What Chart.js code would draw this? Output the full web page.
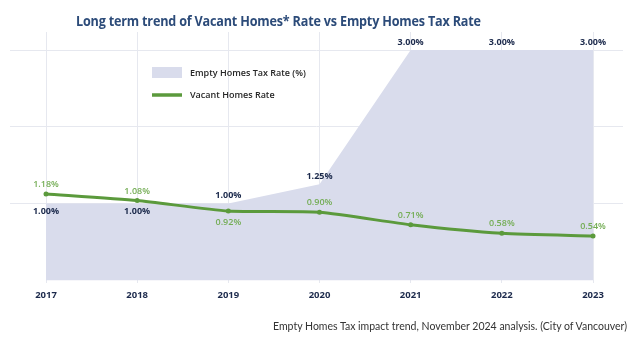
<!DOCTYPE html>
<html>
<head>
<meta charset="utf-8">
<script src="https://cdn.jsdelivr.net/npm/chart.js@4.4.1/dist/chart.umd.min.js"></script>
<style>
  html, body { margin: 0; padding: 0; background: #ffffff; }
  #wrap { position: relative; width: 633px; height: 338px; overflow: hidden; }
  #chart { position: absolute; left: 0; top: 0; }
  #title {
    position: absolute; left: 76px; top: 11px;
    font: 700 14px "Open Sans", sans-serif; color: #2c4b79;
    white-space: nowrap; letter-spacing: -0.2px;
    transform: scaleX(0.9); transform-origin: left center;
  }
  #caption {
    position: absolute; right: 6px; top: 320px;
    font: 400 10.5px Lato, sans-serif; color: #333333; white-space: nowrap;
  }
</style>
</head>
<body>
<div id="wrap">
  <canvas id="chart" width="633" height="338"></canvas>
  <div id="title">Long term trend of Vacant Homes* Rate vs Empty Homes Tax Rate</div>
  <div id="caption">Empty Homes Tax impact trend, November 2024 analysis. (City of Vancouver)</div>
</div>
<script>
// Years on the horizontal axis
const years = [2017, 2018, 2019, 2020, 2021, 2022, 2023];
// Empty Homes Tax rate (%) per year
const taxRate = [1.00, 1.00, 1.00, 1.25, 3.00, 3.00, 3.00];
// Vacant homes rate (%) per year
const vacantRate = [1.18, 1.08, 0.92, 0.90, 0.71, 0.58, 0.54];
// Series names
const taxName = 'Empty Homes Tax Rate (%)';
const vacantName = 'Vacant Homes Rate';
// Horizontal grid values on the tax-rate axis
const gridValues = [1, 2, 3];

const TAX_FILL = '#d9dcec';
const GREEN = '#5b9a3c';
const GREEN_TEXT = '#74ad55';
const NAVY = '#1c2a4c';
const GRID = '#e6e8ef';

const pct = v => v.toFixed(2) + '%';

// Value labels next to each point of both series
const valueLabels = {
  id: 'valueLabels',
  afterDraw(chart) {
    const ctx = chart.ctx;
    const taxMeta = chart.getDatasetMeta(0);
    const vacMeta = chart.getDatasetMeta(1);
    ctx.save();
    ctx.textAlign = 'center';
    ctx.textBaseline = 'middle';
    taxMeta.data.forEach((pt, i) => {
      const below = vacantRate[i] > taxRate[i];
      ctx.font = '700 9px "Open Sans"';
      ctx.fillStyle = NAVY;
      ctx.fillText(pct(taxRate[i]), pt.x, pt.y + (below ? 8 : -8));
    });
    vacMeta.data.forEach((pt, i) => {
      const taxPt = taxMeta.data[i];
      const below = vacantRate[i] < taxRate[i] && (pt.y - taxPt.y) < 15;
      ctx.font = '600 9px "Open Sans"';
      ctx.fillStyle = GREEN_TEXT;
      ctx.fillText(pct(vacantRate[i]), pt.x, pt.y + (below ? 11 : -9.5));
    });
    ctx.restore();
  }
};

// Legend drawn inside the plot, upper left
const innerLegend = {
  id: 'innerLegend',
  afterDraw(chart) {
    const { ctx, chartArea } = chart;
    const x0 = chartArea.left + 142;
    const y0 = chartArea.top + 35;
    const ds = chart.data.datasets;
    ctx.save();
    ctx.fillStyle = ds[0].backgroundColor;
    ctx.fillRect(x0, y0, 30, 11);
    ctx.strokeStyle = ds[1].borderColor;
    ctx.lineWidth = 3.5;
    ctx.beginPath();
    ctx.moveTo(x0, y0 + 28);
    ctx.lineTo(x0 + 30, y0 + 28);
    ctx.stroke();
    ctx.font = '600 9px "Open Sans"';
    ctx.fillStyle = '#262626';
    ctx.textAlign = 'left';
    ctx.textBaseline = 'middle';
    ctx.fillText(ds[0].label, x0 + 38, y0 + 6);
    ctx.fillText(ds[1].label, x0 + 38, y0 + 28);
    ctx.restore();
  }
};

new Chart(document.getElementById('chart'), {
  type: 'line',
  data: {
    datasets: [
      {
        label: taxName,
        data: years.map((y, i) => ({ x: y, y: taxRate[i] })),
        yAxisID: 'y',
        backgroundColor: TAX_FILL,
        borderWidth: 0,
        borderColor: TAX_FILL,
        pointRadius: 0,
        fill: 'origin',
        tension: 0,
        order: 2
      },
      {
        label: vacantName,
        data: years.map((y, i) => ({ x: y, y: vacantRate[i] })),
        yAxisID: 'y2',
        borderColor: GREEN,
        backgroundColor: GREEN,
        borderWidth: 3,
        pointRadius: 2.5,
        pointBackgroundColor: GREEN,
        pointBorderWidth: 0,
        fill: false,
        tension: 0.2,
        order: 1
      }
    ]
  },
  options: {
    responsive: false,
    devicePixelRatio: 1,
    animation: false,
    layout: { padding: { left: 10, right: 10, top: 32, bottom: 33 } },
    plugins: {
      legend: { display: false },
      tooltip: { enabled: false },
      title: { display: false }
    },
    scales: {
      x: {
        type: 'linear',
        min: 2016.605,
        max: 2023.329,
        z: 1,
        afterBuildTicks: s => { s.ticks = years.map(v => ({ value: v })); },
        afterFit: s => { s.height = 22; },
        grid: { color: GRID, lineWidth: 1, drawTicks: false },
        border: { display: false },
        ticks: {
          padding: 7,
          color: NAVY,
          font: { family: 'Open Sans', size: 9.5, weight: '700' },
          callback: v => String(v),
          maxRotation: 0
        }
      },
      y: {
        min: -0.036,
        max: 3.235,
        z: 1,
        afterBuildTicks: s => { s.ticks = gridValues.map(v => ({ value: v })); },
        afterFit: s => { s.width = 0; },
        grid: { color: GRID, lineWidth: 1, drawTicks: false },
        border: { display: false },
        ticks: { display: false }
      },
      y2: {
        display: false,
        min: -0.177,
        max: 3.649
      }
    }
  },
  plugins: [valueLabels, innerLegend]
});
</script>
</body>
</html>
